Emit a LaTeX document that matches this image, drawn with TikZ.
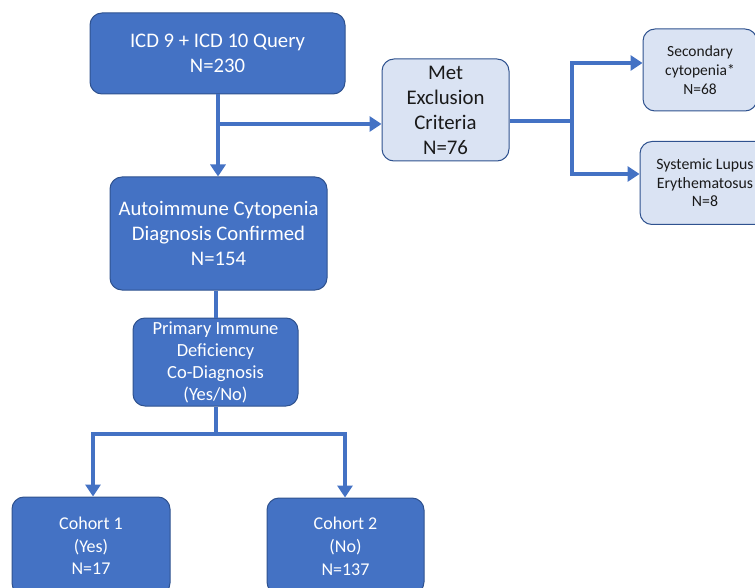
\documentclass[tikz,border=0pt]{standalone}
\usepackage{fontspec}
\setmainfont{Carlito}
\usetikzlibrary{arrows.meta}
\definecolor{boxblue}{HTML}{4472C4}
\definecolor{boxedge}{HTML}{2F528F}
\definecolor{lightfill}{HTML}{DAE3F3}
\definecolor{textdark}{HTML}{1A1A1A}
\begin{document}
\begin{tikzpicture}[x=1pt,y=-1pt,
  darkbox/.style={draw=boxedge,line width=1pt,fill=boxblue,rounded corners=12pt,text=white,align=center,inner sep=0pt},
  lightbox/.style={draw=boxedge,line width=1pt,fill=lightfill,rounded corners=12pt,text=textdark,align=center,inner sep=0pt},
  conn/.style={draw=boxblue,line width=4pt},
  arr/.style={conn,-{Triangle[width=15pt,length=12pt]}}]
\useasboundingbox (0,0) rectangle (755,588);
\clip (0,0) rectangle (755,588);
\node[darkbox,minimum width=255pt,minimum height=81pt,font=\fontsize{20.7}{25}\selectfont] (A) at (217.5,53.5) {ICD 9 + ICD 10 Query\\N=230};
\node[darkbox,minimum width=217pt,minimum height=113pt,font=\fontsize{20.7}{25}\selectfont] (B) at (218.5,233.5) {Autoimmune Cytopenia\\Diagnosis Confirmed\\N=154};
\node[darkbox,minimum width=165pt,minimum height=88pt,font=\fontsize{18.5}{22}\selectfont] (C) at (215.5,362) {Primary Immune\\Deficiency\\Co-Diagnosis\\(Yes/No)};
\node[darkbox,minimum width=158pt,minimum height=98pt,font=\fontsize{18}{22.5}\selectfont] (D) at (91,546) {Cohort 1\\(Yes)\\N=17};
\node[darkbox,minimum width=157pt,minimum height=96pt,font=\fontsize{18}{23}\selectfont] (E) at (345.5,546) {Cohort 2\\(No)\\N=137};
\node[lightbox,minimum width=127pt,minimum height=102pt,font=\fontsize{20.8}{25}\selectfont] (M) at (445.5,110) {Met\\Exclusion\\Criteria\\N=76};
\node[lightbox,minimum width=114pt,minimum height=82pt,font=\fontsize{15.5}{19}\selectfont] (S) at (700,70) {Secondary\\cytopenia*\\N=68};
\node[lightbox,minimum width=130pt,minimum height=83pt,font=\fontsize{15.8}{18.5}\selectfont] (L) at (705,183) {Systemic Lupus\\Erythematosus\\N=8};
% connectors
\coordinate (j0) at (218,124);
\draw[arr] (A.south -| j0) -- (B.north -| j0);
\draw[arr] (j0) -- (M.west |- j0);
\draw[conn] (C.north) -- (C.north |- B.south);
\coordinate (j1) at (215.5,434);
\coordinate (jl) at (93,434);
\coordinate (jr) at (345,434);
\draw[conn] (C.south) -- (j1);
\draw[conn,line cap=rect] (jl) -- (jr);
\draw[arr] (jl) -- (jl |- D.north);
\draw[arr] (jr) -- (jr |- E.north);
\coordinate (k0) at (572,121);
\coordinate (kt) at (572,63);
\coordinate (kb) at (572,174);
\draw[conn] (M.east |- k0) -- (k0);
\draw[conn,line cap=rect] (kt) -- (kb);
\draw[arr] (kt) -- (S.west |- kt);
\draw[arr] (kb) -- (L.west |- kb);
\end{tikzpicture}
\end{document}
